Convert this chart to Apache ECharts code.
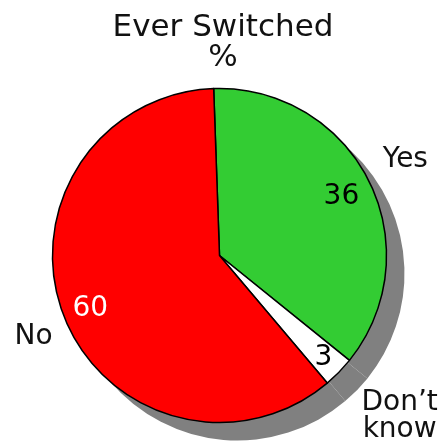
<!DOCTYPE html>
<html>
<head>
<meta charset="utf-8">
<script src="https://cdn.jsdelivr.net/npm/echarts@6/dist/echarts.min.js"></script>
<style>
  html, body { margin: 0; padding: 0; background: #ffffff; }
  #chart { width: 446px; height: 448px; }
</style>
</head>
<body>
<div id="chart"></div>
<script>
// Survey answers, in drawing order (clockwise from 12 o'clock)
const categories = ['Yes', 'Don\u2019t\nknow', 'No'];
const values = [36, 3, 60];
const sliceColors = ['#33cc33', '#ffffff', '#ff0000'];
const valueLabelColors = ['#000000', '#000000', '#ffffff'];
const titleLines = ['Ever Switched', '%'];

const FONT = '"DejaVu Sans", sans-serif';
const CX = 219.5, CY = 255.5, R = 167;
const SHADOW_OFFSET = 18;
const START_ANGLE = 92;

// small nudges for label placement, per slice
const valueNudge = [[-2, 3], [5, 5], [0, 3]];
const nameNudge = [[-2, -2], [30, 14], [10, 6]];

const baseData = categories.map((name, i) => ({ name: name, value: values[i] }));

const noEmphasis = { disabled: true };

const chart = echarts.init(document.getElementById('chart'), null, { renderer: 'canvas' });

chart.setOption({
  animation: false,
  backgroundColor: '#ffffff',
  title: {
    text: titleLines.join('\n'),
    left: 'center',
    top: 8,
    textStyle: {
      fontFamily: FONT,
      fontSize: 31,
      fontWeight: 'normal',
      lineHeight: 30,
      color: '#111111'
    }
  },
  series: [
    // drop shadow: same pie, flat grey, shifted down-right
    {
      type: 'pie',
      silent: true,
      z: 1,
      center: [CX + SHADOW_OFFSET, CY + SHADOW_OFFSET],
      radius: [0, R],
      startAngle: START_ANGLE,
      label: { show: false },
      labelLine: { show: false },
      emphasis: noEmphasis,
      itemStyle: { color: '#808080', borderWidth: 0 },
      data: baseData.map(d => ({ name: d.name, value: d.value }))
    },
    // main pie
    {
      type: 'pie',
      silent: true,
      z: 2,
      center: [CX, CY],
      radius: [0, R],
      startAngle: START_ANGLE,
      label: { show: false },
      labelLine: { show: false },
      emphasis: noEmphasis,
      itemStyle: { borderColor: '#000000', borderWidth: 1.5 },
      data: baseData.map((d, i) => ({
        name: d.name,
        value: d.value,
        itemStyle: { color: sliceColors[i] }
      }))
    },
    // value labels near the rim
    {
      type: 'pie',
      silent: true,
      z: 3,
      center: [CX, CY],
      radius: [104, R],
      startAngle: START_ANGLE,
      avoidLabelOverlap: false,
      emphasis: noEmphasis,
      labelLine: { show: false },
      itemStyle: { color: 'rgba(0,0,0,0)', borderWidth: 0 },
      label: {
        show: true,
        position: 'inside',
        formatter: '{c}',
        fontFamily: FONT,
        fontSize: 28,
        rotate: 0
      },
      labelLayout: function (params) {
        const n = valueNudge[params.dataIndex];
        return { dx: n[0], dy: n[1] };
      },
      data: baseData.map((d, i) => ({
        name: d.name,
        value: d.value,
        label: { color: valueLabelColors[i] }
      }))
    },
    // category names outside the pie
    {
      type: 'pie',
      silent: true,
      z: 3,
      center: [CX, CY],
      radius: [176, 238],
      startAngle: START_ANGLE,
      avoidLabelOverlap: false,
      emphasis: noEmphasis,
      labelLine: { show: false },
      itemStyle: { color: 'rgba(0,0,0,0)', borderWidth: 0 },
      label: {
        show: true,
        position: 'inside',
        formatter: '{b}',
        fontFamily: FONT,
        fontSize: 28,
        lineHeight: 27,
        color: '#111111',
        rotate: 0
      },
      labelLayout: function (params) {
        const n = nameNudge[params.dataIndex];
        return { dx: n[0], dy: n[1] };
      },
      data: baseData.map(d => ({ name: d.name, value: d.value }))
    }
  ]
});
</script>
</body>
</html>
